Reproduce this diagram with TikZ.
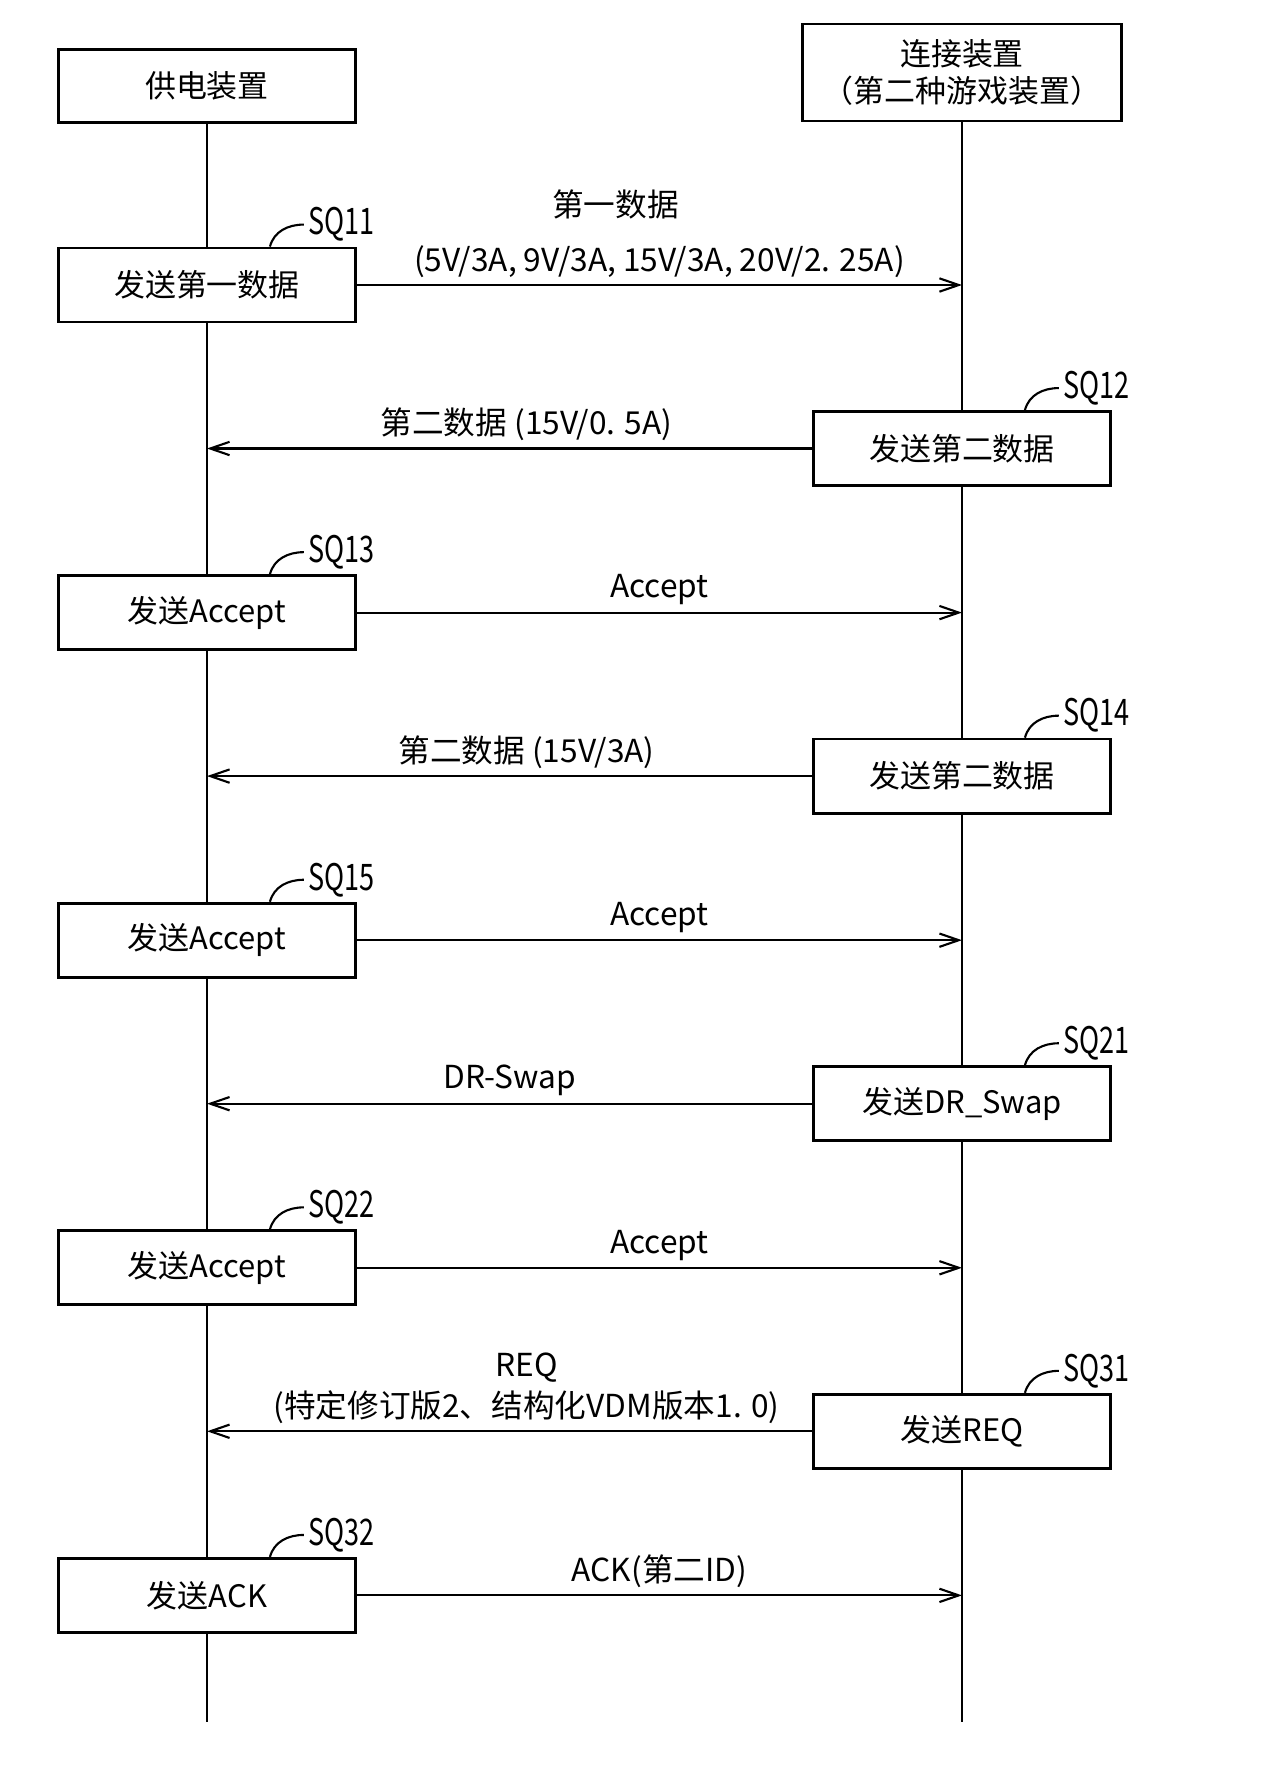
\documentclass[tikz,border=0pt]{standalone}
\usepackage{fontspec}
\setmainfont{Noto Sans CJK SC}
\usetikzlibrary{arrows.meta,positioning}

\newcommand{\sqtext}[1]{\scalebox{0.74}[1]{#1}}

\begin{document}
\begin{tikzpicture}[x=0.01cm,y=-0.01cm,node distance=3.274cm,on grid,
    >={Straight Barb[length=5.5pt,width=3.8pt]}]
  \tikzset{
    box/.style={draw, line width=0.8pt, fill=white, minimum width=2.97cm,
      minimum height=0.74cm, font=\fontsize{8.8pt}{10.5pt}\selectfont},
    lifeline/.style={line width=0.6pt},
    msg/.style={->, line width=0.6pt},
    lbl/.style={font=\fontsize{9pt}{11.6pt}\selectfont, align=center, above=-1.5pt},
    sqlabel/.style={font=\fontsize{10.4pt}{12pt}\selectfont, anchor=west, inner sep=1pt}
  }
  \useasboundingbox (0,0) rectangle (1270,1784);

  % participants
  \node[box, minimum height=0.73cm] (pwr) at (207,86) {供电装置};
  \node[box, minimum width=3.19cm, minimum height=0.97cm, align=center] (dev) at (962,72.5)
    {连接装置\\（第二种游戏装置）};
  \coordinate (pwrend) at (207,1722);
  \coordinate (devend) at (962,1722);
  \draw[lifeline] (pwr.south) -- (pwrend);
  \draw[lifeline] (dev.south) -- (devend);

  % steps on the power side
  \node[box] (sq11) at (207,285) {发送第一数据};
  \node[box] (sq13) [below=of sq11] {发送Accept};
  \node[box] (sq15) [below=of sq13] {发送Accept};
  \node[box] (sq22) [below=of sq15] {发送Accept};
  \node[box] (sq32) [below=of sq22] {发送ACK};

  % steps on the device side
  \node[box] (sq12) at (962,448.5) {发送第二数据};
  \node[box] (sq14) [below=of sq12] {发送第二数据};
  \node[box] (sq21) [below=of sq14] {发送DR\_Swap};
  \node[box] (sq31) [below=of sq21] {发送REQ};

  % step tags
  \foreach \b/\t in {sq11/SQ11, sq12/SQ12, sq13/SQ13, sq14/SQ14, sq15/SQ15,
                     sq21/SQ21, sq22/SQ22, sq31/SQ31, sq32/SQ32} {
    \node[sqlabel] (\b-tag) at ([xshift=-0.53cm, yshift=0.22cm]\b.north east) {\sqtext{\t}};
    \draw[lifeline] ([xshift=-0.87cm]\b.north east) to[out=75,in=180] (\b-tag.west);
  }

  % messages
  \draw[msg] (sq11.east) -- (sq11.east -| dev)
    node[midway, lbl] {第一数据\hspace*{0.88cm}\\[4pt](5V/3A, 9V/3A, 15V/3A, 20V/2. 25A)};
  \draw[msg] (sq12.west) -- (sq12.west -| pwr)
    node[midway, lbl, xshift=0.17cm] {第二数据 (15V/0. 5A)};
  \draw[msg] (sq13.east) -- (sq13.east -| dev) node[midway, lbl] {Accept};
  \draw[msg] (sq14.west) -- (sq14.west -| pwr)
    node[midway, lbl, xshift=0.17cm] {第二数据 (15V/3A)};
  \draw[msg] (sq15.east) -- (sq15.east -| dev) node[midway, lbl] {Accept};
  \draw[msg] (sq21.west) -- (sq21.west -| pwr) node[midway, lbl] {DR-Swap};
  \draw[msg] (sq22.east) -- (sq22.east -| dev) node[midway, lbl] {Accept};
  \draw[msg] (sq31.west) -- (sq31.west -| pwr)
    node[midway, lbl, xshift=0.17cm] {REQ\\(特定修订版2、结构化VDM版本1. 0)};
  \draw[msg] (sq32.east) -- (sq32.east -| dev) node[midway, lbl] {ACK(第二ID)};
\end{tikzpicture}
\end{document}
